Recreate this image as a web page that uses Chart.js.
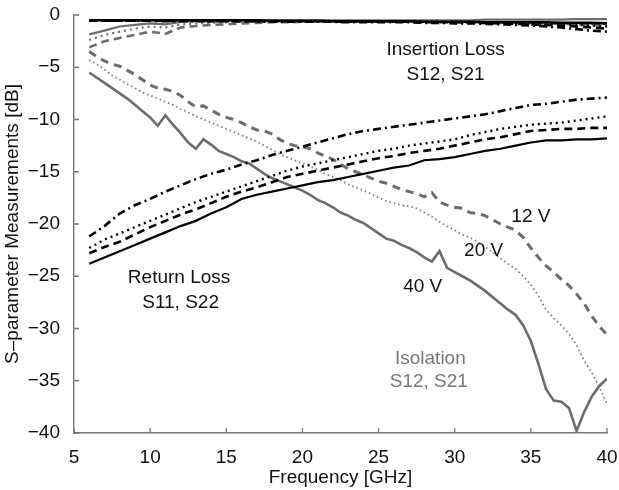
<!DOCTYPE html>
<html>
<head>
<meta charset="utf-8">
<script src="https://cdn.jsdelivr.net/npm/chart.js@4"></script>
<style>
    html, body { margin: 0; padding: 0; background: #fff; }
    #wrap { width: 619px; height: 490px; }
</style>
</head>
<body>
<div id="wrap"><canvas id="SParamChart" width="619" height="490"></canvas></div>
<script>
// frequency grids [GHz]
const freqFine = [
    6, 6.5, 7, 7.5, 8, 8.5, 9, 9.5, 10, 10.5, 11, 11.5, 12, 12.5, 13, 13.5, 14, 14.5, 15, 15.5,
    16, 16.5, 17, 17.5, 18, 18.5, 19, 19.5, 20, 20.5, 21, 21.5, 22, 22.5, 23, 23.5, 24, 24.5, 25, 25.5,
    26, 26.5, 27, 27.5, 28, 28.5, 29, 29.5, 30, 30.5, 31, 31.5, 32, 32.5, 33, 33.5, 34, 34.5, 35, 35.5,
    36, 36.5, 37, 37.5, 38, 38.5, 39, 39.5, 40
];
const freqCoarse = [
    6, 7, 8, 9, 10, 11, 12, 13, 14, 15, 16, 17, 18, 19, 20, 21, 22, 23, 24, 25,
    26, 27, 28, 29, 30, 31, 32, 33, 34, 35, 36, 37, 38, 39, 40
];

// Isolation S12, S21 (grey), on freqFine
const iso12V = [
    -3.5, -4.0, -4.4, -4.7, -4.9, -5.3, -5.7, -6.2, -6.7, -7.0, -7.1, -7.3, -7.7, -8.3, -8.8, -8.7, -9.1, -9.5, -9.8, -10.0,
    -10.3, -10.7, -11.0, -11.1, -11.4, -11.9, -12.3, -12.5, -12.6, -12.8, -13.2, -13.5, -13.8, -14.3, -14.7, -15.0, -15.3, -15.6, -15.9, -16.1,
    -16.4, -16.7, -16.9, -17.1, -17.4, -17.0, -17.9, -18.2, -18.4, -18.5, -18.9, -19.0, -19.2, -19.6, -20.0, -20.3, -20.6, -21.3, -22.3, -23.2,
    -24.0, -24.6, -25.3, -25.9, -26.7, -27.6, -28.8, -29.8, -30.6
];
const iso20V = [
    -4.3, -4.7, -5.2, -5.8, -6.2, -6.6, -7.0, -7.4, -7.7, -8.0, -8.3, -8.6, -9.0, -9.3, -9.7, -10.0, -10.3, -10.6, -10.9, -11.2,
    -11.5, -11.8, -12.1, -12.5, -12.9, -13.3, -13.6, -13.9, -14.2, -14.5, -14.8, -15.2, -15.5, -15.8, -16.2, -16.5, -16.8, -17.1, -17.5, -17.8,
    -18.0, -18.2, -18.3, -18.5, -18.9, -19.3, -19.8, -20.2, -20.6, -21.0, -21.3, -21.7, -22.2, -22.7, -23.3, -23.8, -24.3, -25.0, -25.8, -26.9,
    -28.2, -29.0, -29.7, -30.5, -31.6, -33.1, -34.2, -35.6, -37.2
];
const iso40V = [
    -5.5, -6.0, -6.5, -7.0, -7.5, -8.0, -8.6, -9.2, -9.8, -10.6, -9.6, -10.5, -11.3, -12.2, -12.8, -11.9, -12.4, -13.0, -13.3, -13.6,
    -14.0, -14.2, -14.7, -15.2, -15.6, -15.9, -16.2, -16.5, -16.8, -17.2, -17.7, -18.0, -18.4, -18.9, -19.2, -19.6, -19.9, -20.4, -20.9, -21.4,
    -21.6, -22.0, -22.3, -22.7, -23.2, -23.6, -22.6, -24.2, -24.6, -25.0, -25.4, -25.9, -26.4, -27.0, -27.6, -28.2, -28.7, -29.7, -31.2, -33.4,
    -35.8, -36.9, -37.0, -37.6, -39.8, -38.0, -36.5, -35.5, -34.8
];

// Return loss S11, S22 (black), on freqCoarse
const retDashDot = [
    -21.2, -20.2, -19.0, -18.2, -17.6, -16.9, -16.3, -15.7, -15.2, -14.8, -14.3, -13.9, -13.4, -13.0, -12.6, -12.2, -11.8, -11.4, -11.1, -10.9,
    -10.7, -10.5, -10.3, -10.1, -9.9, -9.7, -9.5, -9.2, -8.9, -8.6, -8.5, -8.3, -8.1, -8.0, -7.9
];
const retDot = [
    -22.3, -21.5, -20.9, -20.3, -19.7, -19.1, -18.5, -17.9, -17.4, -16.9, -16.4, -15.9, -15.4, -14.9, -14.5, -14.2, -13.9, -13.6, -13.3, -13.0,
    -12.8, -12.5, -12.3, -12.1, -11.9, -11.5, -11.2, -10.9, -10.7, -10.5, -10.4, -10.3, -10.1, -9.9, -9.7
];
const retDash = [
    -22.8, -22.2, -21.7, -21.0, -20.3, -19.7, -19.1, -18.6, -18.0, -17.4, -16.9, -16.5, -16.0, -15.5, -15.2, -14.9, -14.6, -14.3, -14.0, -13.7,
    -13.5, -13.2, -13.0, -12.8, -12.5, -12.2, -11.9, -11.7, -11.4, -11.1, -11.0, -10.9, -10.9, -10.8, -10.8
];
const retSolid = [
    -23.8, -23.2, -22.6, -22.0, -21.4, -20.8, -20.2, -19.7, -19.0, -18.4, -17.6, -17.2, -16.9, -16.6, -16.3, -16.0, -15.8, -15.5, -15.2, -14.9,
    -14.6, -14.4, -13.9, -13.8, -13.6, -13.3, -13.0, -12.8, -12.5, -12.2, -12.0, -12.0, -11.9, -11.9, -11.8
];

// Insertion loss S12, S21, on freqCoarse
const insBlackSolid = [
    -0.5, -0.5, -0.5, -0.5, -0.5, -0.5, -0.5, -0.5, -0.5, -0.5, -0.5, -0.5, -0.55, -0.55, -0.55, -0.55, -0.6, -0.6, -0.6, -0.6,
    -0.6, -0.6, -0.65, -0.65, -0.65, -0.65, -0.7, -0.7, -0.7, -0.7, -0.7, -0.75, -0.75, -0.75, -0.8
];
const insBlackDash = [
    -0.55, -0.55, -0.55, -0.55, -0.55, -0.55, -0.55, -0.55, -0.6, -0.6, -0.6, -0.6, -0.6, -0.6, -0.6, -0.6, -0.65, -0.65, -0.65, -0.65,
    -0.65, -0.65, -0.7, -0.7, -0.7, -0.75, -0.75, -0.8, -0.85, -0.9, -0.95, -1.0, -1.1, -1.2, -1.3
];
const insBlackDot = [
    -0.5, -0.5, -0.5, -0.5, -0.5, -0.55, -0.55, -0.55, -0.55, -0.55, -0.55, -0.6, -0.6, -0.6, -0.6, -0.6, -0.6, -0.6, -0.65, -0.65,
    -0.65, -0.65, -0.65, -0.7, -0.7, -0.7, -0.7, -0.75, -0.8, -0.8, -0.85, -0.9, -0.95, -1.0, -1.1
];
const insBlackDashDot = [
    -0.55, -0.55, -0.55, -0.55, -0.55, -0.6, -0.6, -0.6, -0.6, -0.6, -0.6, -0.6, -0.65, -0.65, -0.65, -0.65, -0.65, -0.7, -0.7, -0.7,
    -0.7, -0.7, -0.75, -0.75, -0.8, -0.8, -0.85, -0.9, -0.95, -1.0, -1.1, -1.2, -1.35, -1.5, -1.6
];
const insGreySolid = [
    -1.85, -1.5, -1.1, -0.95, -0.8, -0.9, -0.65, -0.6, -0.55, -0.5, -0.5, -0.5, -0.5, -0.5, -0.5, -0.5, -0.5, -0.5, -0.5, -0.5,
    -0.5, -0.5, -0.5, -0.5, -0.5, -0.5, -0.45, -0.45, -0.45, -0.45, -0.45, -0.45, -0.4, -0.4, -0.4
];
const insGreyDot = [
    -2.4, -1.9, -1.6, -1.3, -1.1, -1.2, -0.9, -0.8, -0.75, -0.7, -0.65, -0.6, -0.6, -0.6, -0.6, -0.6, -0.6, -0.6, -0.6, -0.6,
    -0.6, -0.6, -0.6, -0.65, -0.65, -0.65, -0.7, -0.7, -0.7, -0.75, -0.75, -0.8, -0.8, -0.85, -0.9
];
const insGreyDash = [
    -3.1, -2.5, -2.2, -1.9, -1.6, -1.8, -1.2, -1.05, -0.95, -0.9, -0.8, -0.75, -0.7, -0.7, -0.65, -0.65, -0.6, -0.6, -0.6, -0.6,
    -0.6, -0.6, -0.6, -0.65, -0.65, -0.65, -0.7, -0.7, -0.75, -0.75, -0.8, -0.85, -0.9, -0.95, -1.0
];

// axis ticks
const xTicks = [5, 10, 15, 20, 25, 30, 35, 40];
const yTicks = [0, -5, -10, -15, -20, -25, -30, -35, -40];

// text annotations: [text, frequency, dB, colour]
const labels = [
    ['Insertion Loss', 29.4, -3.3, '#111'],
    ['S12, S21', 29.4, -5.7, '#111'],
    ['Return Loss', 11.9, -25.1, '#111'],
    ['S11, S22', 12.0, -27.5, '#111'],
    ['12 V', 35.0, -19.3, '#111'],
    ['20 V', 31.9, -22.6, '#111'],
    ['40 V', 27.9, -26.0, '#111'],
    ['Isolation', 28.4, -32.9, '#777'],
    ['S12, S21', 28.3, -35.1, '#777']
];

const BLACK = '#000';
const GREY = '#6c6c6c';
const FONT = "'Liberation Sans', Arial, sans-serif";

const pts = (xs, ys) => xs.map((x, i) => ({ x: x, y: ys[i] }));

function line(xs, ys, color, dash, width) {
    return {
        data: pts(xs, ys),
        borderColor: color,
        borderDash: dash,
        borderWidth: width,
        pointRadius: 0,
        tension: 0,
        fill: false
    };
}

const datasets = [
    line(freqCoarse, retSolid, BLACK, [], 2.2),
    line(freqCoarse, retDash, BLACK, [8, 5], 2.6),
    line(freqCoarse, retDot, BLACK, [2, 4], 2.4),
    line(freqCoarse, retDashDot, BLACK, [8, 4, 2, 4], 2.6),
    line(freqCoarse, insBlackDash, BLACK, [8, 5], 2.6),
    line(freqCoarse, insBlackDot, BLACK, [2, 4], 2.4),
    line(freqCoarse, insBlackDashDot, BLACK, [8, 4, 2, 4], 2.6),
    line(freqCoarse, insBlackSolid, BLACK, [], 2.6),
    line(freqCoarse, insGreyDash, GREY, [8, 5], 2.6),
    line(freqCoarse, insGreyDot, GREY, [2, 4], 2.2),
    line(freqCoarse, insGreySolid, GREY, [], 2.2),
    line(freqFine, iso12V, GREY, [8, 6], 3),
    line(freqFine, iso20V, '#7a7a7a', [1.5, 3], 1.8),
    line(freqFine, iso40V, GREY, [], 2.6)
];

// short tick marks pointing into the plot
const inwardTicks = {
    id: 'inwardTicks',
    afterDraw(chart) {
        const { ctx, chartArea, scales } = chart;
        ctx.save();
        ctx.strokeStyle = '#777';
        ctx.lineWidth = 1.3;
        ctx.beginPath();
        xTicks.forEach(v => {
            const px = scales.x.getPixelForValue(v);
            ctx.moveTo(px, chartArea.bottom);
            ctx.lineTo(px, chartArea.bottom - 5);
        });
        yTicks.forEach(v => {
            const py = scales.y.getPixelForValue(v);
            ctx.moveTo(chartArea.left, py);
            ctx.lineTo(chartArea.left + 5, py);
        });
        ctx.stroke();
        ctx.restore();
    }
};

const textLabels = {
    id: 'textLabels',
    afterDatasetsDraw(chart) {
        const { ctx, scales } = chart;
        ctx.save();
        ctx.font = '19px ' + FONT;
        ctx.textAlign = 'center';
        ctx.textBaseline = 'middle';
        labels.forEach(([text, f, db, color]) => {
            ctx.fillStyle = color;
            ctx.fillText(text, scales.x.getPixelForValue(f), scales.y.getPixelForValue(db));
        });
        ctx.restore();
    }
};

const ctx = document.getElementById('SParamChart');
const SParamChart = new Chart(ctx, {
    type: 'line',
    data: { datasets: datasets },
    options: {
        responsive: false,
        animation: false,
        layout: { padding: { left: 0, right: 12, top: 15, bottom: 0 } },
        plugins: {
            legend: { display: false },
            tooltip: { enabled: false }
        },
        scales: {
            x: {
                type: 'linear',
                min: 5,
                max: 40,
                afterFit: function (scale) {
                    scale.height = 57;
                    scale.paddingLeft = 0;
                    scale.paddingRight = 0;
                },
                afterBuildTicks: function (scale) { scale.ticks = xTicks.map(v => ({ value: v })); },
                grid: { display: false },
                border: { display: true, color: '#777', width: 1.4 },
                ticks: {
                    color: '#111',
                    padding: 5,
                    maxRotation: 0,
                    font: { family: FONT, size: 19 }
                },
                title: {
                    display: true,
                    text: 'Frequency [GHz]',
                    color: '#111',
                    padding: { top: 0, bottom: 1 },
                    font: { family: FONT, size: 19 }
                }
            },
            y: {
                type: 'linear',
                min: -40,
                max: 0,
                afterFit: function (scale) {
                    scale.width = 74;
                    scale.paddingTop = 0;
                    scale.paddingBottom = 0;
                },
                afterBuildTicks: function (scale) { scale.ticks = yTicks.map(v => ({ value: v })); },
                grid: { display: false },
                border: { display: true, color: '#777', width: 1.4 },
                ticks: {
                    color: '#111',
                    padding: 6,
                    font: { family: FONT, size: 19 },
                    callback: function (value) {
                        return String(value).replace('-', '\u2212');
                    }
                },
                title: {
                    display: true,
                    text: 'S\u2013parameter Measurements [dB]',
                    color: '#111',
                    padding: { top: 1, bottom: 0 },
                    font: { family: FONT, size: 19 }
                }
            }
        }
    },
    plugins: [inwardTicks, textLabels]
});
</script>
</body>
</html>
